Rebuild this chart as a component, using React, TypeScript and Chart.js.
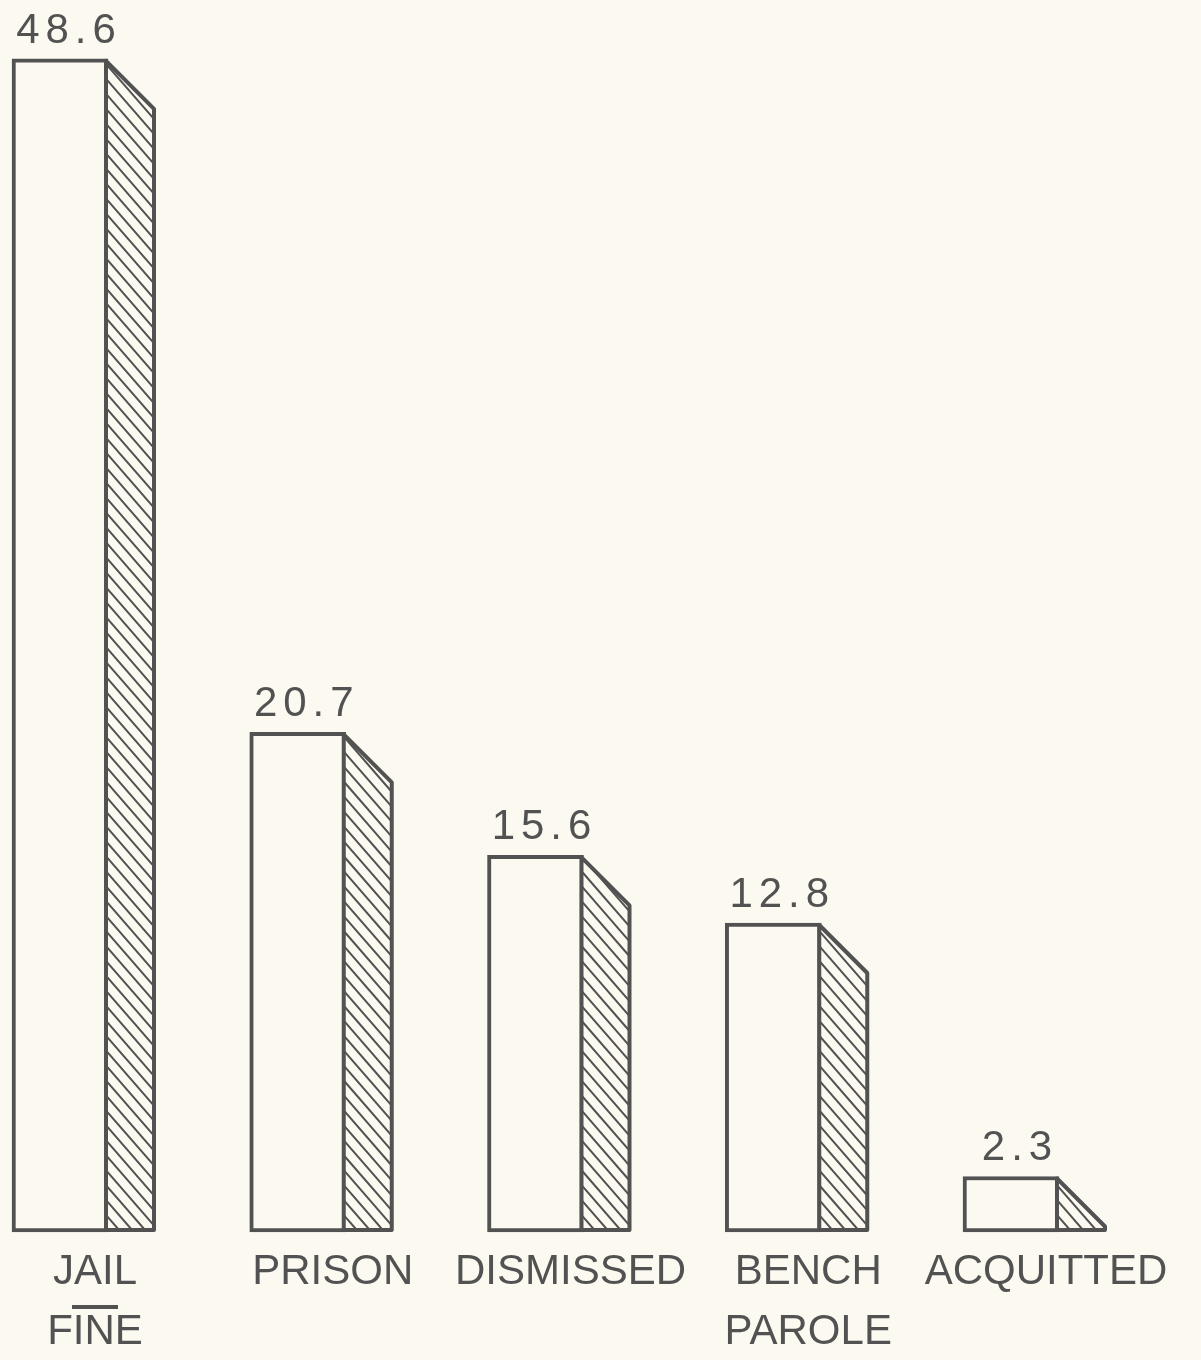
import React, { useEffect, useRef } from "react";
import { Chart, registerables } from "chart.js";

Chart.register(...registerables);

const categories: (string | string[])[] = [["JAIL", "FINE"], "PRISON", "DISMISSED", ["BENCH", "PAROLE"], "ACQUITTED"];
const percentages = [48.6, 20.7, 15.6, 12.8, 2.3];
const valueLabels = ["48.6", "20.7", "15.6", "12.8", "2.3"];

const BG = "#fbf9f0";
const INK = "#525252";
const DEPTH = 48;
const LABEL_OFFSET = 35;
const FONT = "'Liberation Sans', Arial, sans-serif";

const sideFacePlugin = {
  id: "sideFace",
  afterDatasetsDraw(chart: any) {
    const ctx = chart.ctx as CanvasRenderingContext2D;
    const meta = chart.getDatasetMeta(0);
    meta.data.forEach((bar: any, i: number) => {
      const { x, y, base, width } = bar.getProps(["x", "y", "base", "width"], true);
      const r = x + width / 2 - 2;
      const top = y + 2;
      const bottom = base - 2;
      const h = bottom - top;
      const d = Math.min(DEPTH, h);
      ctx.save();
      ctx.beginPath();
      ctx.moveTo(r, top);
      ctx.lineTo(r + d, top + d);
      ctx.lineTo(r + d, bottom);
      ctx.lineTo(r, bottom);
      ctx.closePath();
      ctx.fillStyle = BG;
      ctx.fill();
      ctx.save();
      ctx.clip();
      ctx.strokeStyle = INK;
      ctx.lineWidth = 2;
      const s = 1.15;
      const step = 13;
      ctx.beginPath();
      for (let c = -h / s - step; c < d + step; c += step) {
        ctx.moveTo(r + c, top);
        ctx.lineTo(r + c + h / s, bottom);
      }
      ctx.stroke();
      ctx.restore();
      ctx.beginPath();
      ctx.moveTo(r, top);
      ctx.lineTo(r + d, top + d);
      ctx.lineTo(r + d, bottom);
      ctx.lineTo(r, bottom);
      ctx.closePath();
      ctx.lineWidth = 4;
      ctx.lineJoin = "round";
      ctx.strokeStyle = INK;
      ctx.stroke();

      // value label
      ctx.font = `42px ${FONT}`;
      (ctx as any).letterSpacing = "6px";
      ctx.fillStyle = INK;
      ctx.textAlign = "center";
      ctx.textBaseline = "alphabetic";
      ctx.fillText(valueLabels[i], x + 9, y - 16);
      ctx.restore();
    });
  },
  afterDraw(chart: any) {
    const ctx = chart.ctx as CanvasRenderingContext2D;
    const xs = chart.scales.x;
    const px = xs.getPixelForTick(0) + LABEL_OFFSET;
    const yy = xs.top + 75;
    ctx.save();
    ctx.strokeStyle = INK;
    ctx.lineWidth = 4;
    ctx.beginPath();
    ctx.moveTo(px - 23, yy);
    ctx.lineTo(px + 23, yy);
    ctx.stroke();
    ctx.restore();
  },
};

export default function App() {
  const ref = useRef<HTMLCanvasElement | null>(null);
  useEffect(() => {
    document.body.style.margin = "0";
    const canvas = ref.current;
    if (!canvas) return;
    const chart = new Chart(canvas, {
      type: "bar",
      data: {
        labels: categories as any,
        datasets: [
          {
            data: percentages,
            backgroundColor: BG,
            borderColor: INK,
            borderWidth: 4,
            borderSkipped: false,
            barThickness: 96,
            clip: false as any,
          },
        ],
      },
      options: {
        responsive: false,
        animation: false,
        devicePixelRatio: 1,
        layout: { padding: { left: 60, right: 190, top: 25, bottom: -12 } },
        plugins: { legend: { display: false }, tooltip: { enabled: false } },
        scales: {
          x: {
            offset: false,
            grid: { display: false, drawTicks: false },
            border: { display: false },
            ticks: {
              color: INK,
              font: { family: FONT, size: 42, lineHeight: 60 / 42 },
              padding: 10,
              labelOffset: LABEL_OFFSET,
              maxRotation: 0,
              minRotation: 0,
              autoSkip: false,
            },
          },
          y: { display: false, min: 0, max: 50 },
        },
      },
      plugins: [sideFacePlugin],
    });
    return () => chart.destroy();
  }, []);
  return (
    <div style={{ position: "fixed", left: 0, top: 0, width: 1201, height: 1360, background: BG }}>
      <canvas ref={ref} width={1201} height={1360} style={{ display: "block" }} />
    </div>
  );
}
